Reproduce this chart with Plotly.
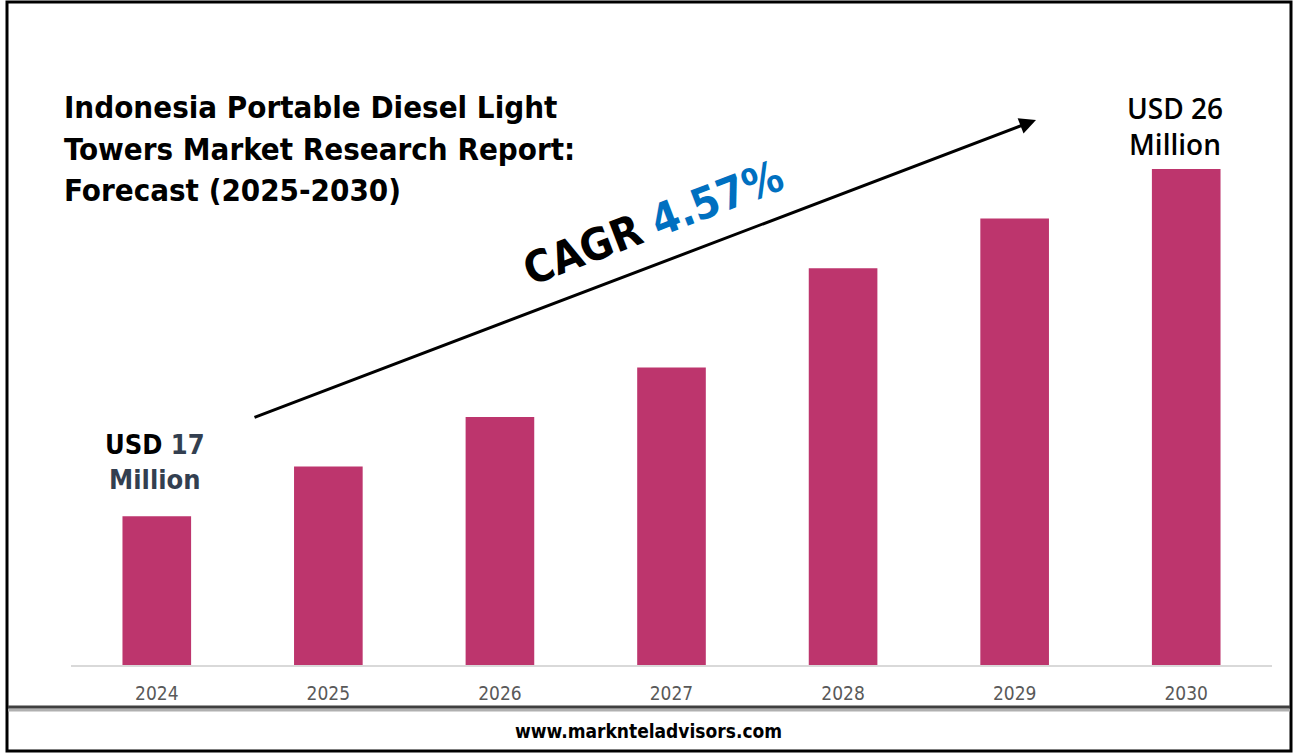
import plotly.graph_objects as go

years = ["2024", "2025", "2026", "2027", "2028", "2029", "2030"]
bar_heights = [3.0, 4.0, 5.0, 6.0, 8.0, 9.0, 10.0]
start_label = ["USD", "17 Million"]
end_label = ["USD 26", "Million"]
cagr_value = "4.57%"
title_lines = ["Indonesia Portable Diesel Light", "Towers Market Research Report:", "Forecast (2025-2030)"]
footer = "www.marknteladvisors.com"

W, H = 1300, 756
L, R, T, B = 71, 28, 45, 91
PW, PH = W - L - R, H - T - B

def px(x):
    return (x - L) / PW

def py(y):
    return (H - B - y) / PH

FONT = "DejaVu Sans Condensed, DejaVu Sans, sans-serif"
BAR = "#BD356D"

fig = go.Figure()
fig.add_trace(go.Bar(x=years, y=bar_heights, marker=dict(color=BAR, line=dict(width=0)),
                     width=0.4, hoverinfo="skip"))

shapes = [
    dict(type="rect", xref="paper", yref="paper", x0=px(7), x1=px(1291), y0=py(2), y1=py(751),
         line=dict(color="#000000", width=3), fillcolor="rgba(0,0,0,0)", layer="above"),
    dict(type="line", xref="paper", yref="paper", x0=px(8), x1=px(1290), y0=py(710), y1=py(710),
         line=dict(color="#B0B0B0", width=3)),
    dict(type="line", xref="paper", yref="paper", x0=px(8), x1=px(1290), y0=py(707), y1=py(707),
         line=dict(color="#404040", width=3)),
]

annotations = []
for i, line in enumerate(title_lines):
    annotations.append(dict(xref="paper", yref="paper", x=px(62), y=py(107 + i * 41.5),
                            text="<b>" + line + "</b>", showarrow=False, xanchor="left", yanchor="middle",
                            font=dict(family=FONT, size=31, color="#000000")))

# CAGR arrow
hx, hy, tx, ty = 1036, 120, 253, 418
annotations.append(dict(xref="paper", yref="paper", axref="pixel", ayref="pixel",
                        x=px(hx), y=py(hy), ax=tx - hx, ay=ty - hy, text="", showarrow=True,
                        arrowhead=2, arrowsize=1.1, arrowwidth=3, arrowcolor="#000000"))
annotations.append(dict(xref="paper", yref="paper", x=px(653), y=py(222), textangle=-21,
                        text="<b>CAGR <span style='color:#0070C0'>" + cagr_value + "</span></b>",
                        showarrow=False, xanchor="center", yanchor="middle",
                        font=dict(family=FONT, size=44, color="#000000")))

annotations.append(dict(xref="paper", yref="paper", x=px(155), y=py(462),
                        text="<b>" + start_label[0] + " <span style='color:#333F50'>" +
                             start_label[1].split(" ")[0] + "<br>" + start_label[1].split(" ")[1] + "</span></b>",
                        showarrow=False, xanchor="center", yanchor="middle",
                        font=dict(family=FONT, size=27, color="#000000")))
annotations.append(dict(xref="paper", yref="paper", x=px(1175), y=py(126),
                        text=end_label[0] + "<br>" + end_label[1],
                        showarrow=False, xanchor="center", yanchor="middle",
                        font=dict(family="Open Sans, DejaVu Sans, sans-serif", size=28, weight=600,
                                  color="#000000")))
annotations.append(dict(xref="paper", yref="paper", x=px(648), y=py(731),
                        text="<b>" + footer + "</b>", showarrow=False, xanchor="center", yanchor="middle",
                        font=dict(family=FONT, size=19, color="#000000")))

fig.update_layout(
    width=W, height=H, margin=dict(l=L, r=R, t=T, b=B),
    paper_bgcolor="#FFFFFF", plot_bgcolor="#FFFFFF", showlegend=False,
    shapes=shapes, annotations=annotations, bargap=0.6,
    xaxis=dict(showgrid=False, showline=True, linecolor="#D9D9D9", linewidth=1.5,
               ticks="outside", ticklen=10, tickcolor="rgba(0,0,0,0)",
               tickfont=dict(family=FONT, size=19, color="#595959"), fixedrange=True),
    yaxis=dict(range=[0, 12.5], visible=False, fixedrange=True),
)

fig.write_html("out.html", config={"displayModeBar": False},
               post_script="document.body.style.margin='0';document.body.style.overflow='hidden';")
